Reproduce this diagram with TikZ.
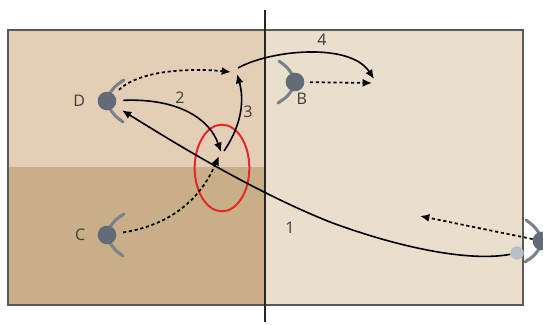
\documentclass[tikz,border=0pt]{standalone}
\usepackage{fontspec}
\setsansfont{Open Sans}
\usetikzlibrary{arrows.meta,positioning,shapes.geometric}
\definecolor{sandlight}{RGB}{228,206,182}
\definecolor{sanddark}{RGB}{200,175,136}
\definecolor{sandright}{RGB}{234,223,204}
\definecolor{plgray}{RGB}{98,108,120}
\definecolor{ballgray}{RGB}{185,190,198}
\definecolor{txtgray}{RGB}{60,60,60}
\definecolor{markred}{RGB}{228,40,40}

\begin{document}
\begin{tikzpicture}[x=0.75pt,y=-0.75pt,>={Latex[length=7pt,width=6pt]},
  player/.style={circle,fill=plgray,minimum size=14pt,inner sep=0pt},
  ball/.style={circle,fill=ballgray,minimum size=10pt,inner sep=0pt},
  lbl/.style={font=\sffamily\fontsize{12}{14}\selectfont,text=txtgray,inner sep=1pt},
  passline/.style={->,line width=1.3pt,black,dash pattern=on 2.4pt off 2pt},
  runline/.style={->,line width=1.2pt,black},
  armline/.style={plgray!85,line width=2.3pt,line cap=round},
  arms/.pic={\draw[armline] (3,-8) .. controls (8,-15) .. (17,-21);
             \draw[armline] (3,8) .. controls (8,15) .. (16,21);}]
  \useasboundingbox (0,0) rectangle (543,325);
  \clip (0,0) rectangle (543,325);
  % pitch
  \fill[sandlight] (8,30) rectangle (265,167);
  \fill[sanddark] (8,167) rectangle (265,305);
  \fill[sandright] (265,30) rectangle (523,305);
  \draw[gray!70!black,line width=1pt] (8,30) rectangle (523,305);
  \draw[black!85,line width=1.2pt] (265,10) -- (265,322);

  % players and ball
  \pic at (107,101) {arms};
  \node[player] (D) at (107,101) {};
  \pic[rotate=180] at (295,82) {arms};
  \node[player] (B) at (295,82) {};
  \pic at (107,235) {arms};
  \node[player] (C) at (107,235) {};
  \pic[rotate=180] at (542,241) {arms};
  \node[player] (E) at (542,241) {};
  \node[ball] (ball) at (517,253) {};

  \node[lbl,left=8pt of D] (labD) {D};
  \node[lbl,below right=2pt and -5pt of B] (labB) {B};
  \node[lbl,left=8pt of C] (labC) {C};

  \node[ellipse,draw=markred,line width=1.5pt,minimum width=41pt,
        minimum height=65pt,inner sep=0pt] (ring) at (222,168) {};

  \coordinate (t3) at (231,72);
  \coordinate (r2) at (221,152);
  \coordinate (s3) at (224,151);
  \coordinate (e3) at (237,74);
  \coordinate (s4) at (238,68);
  \coordinate (e4) at (374,79);
  \coordinate (eB) at (372,83);
  \coordinate (eC) at (219,156);
  \coordinate (eE) at (420,216);

  % moves
  \draw[passline,shorten <=5pt] (D) .. controls (140,70) and (190,68) .. (t3);
  \draw[runline,shorten <=5pt] (D) .. controls (180,98) and (210,120) .. (r2);
  \draw[runline] (s3) .. controls (245,120) and (243,95) .. (e3);
  \draw[runline] (s4) .. controls (270,50) and (350,42) .. (e4);
  \draw[passline,shorten <=4pt] (B) -- (eB);
  \draw[passline,shorten <=5pt] (C) .. controls (170,225) and (200,200) .. (eC);
  \draw[passline] (E) -- (eE);
  \draw[runline,shorten >=6pt] (ball) .. controls (470,262) and (400,248) .. (330,222)
    .. controls (250,190) and (170,140) .. (D);

  \node[lbl] (n1) at (290,228) {1};
  \node[lbl] (n2) at (180,98) {2};
  \node[lbl] (n3) at (248,112) {3};
  \node[lbl] (n4) at (322,40) {4};
\end{tikzpicture}
\end{document}
